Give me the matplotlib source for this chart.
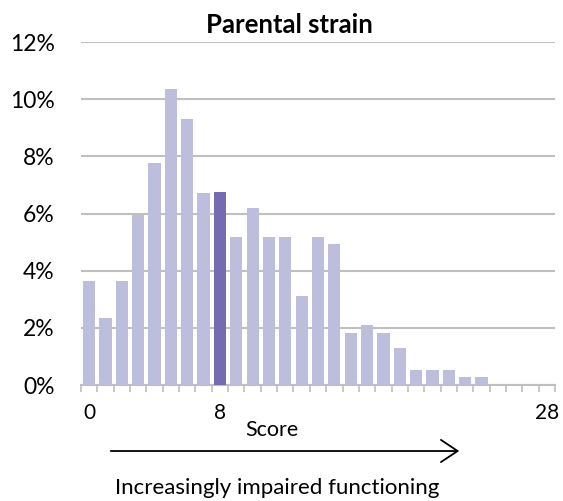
import numpy as np
import matplotlib
matplotlib.use("Agg")
from matplotlib import pyplot as plt
from matplotlib.ticker import FuncFormatter

plt.rcParams['font.family'] = ['Lato', 'DejaVu Sans']

scores = list(range(29))
shares = [3.63, 2.33, 3.63, 5.94, 7.76, 10.35, 9.30, 6.72, 6.75, 5.17,
          6.21, 5.17, 5.17, 3.11, 5.17, 4.92, 1.82, 2.09, 1.82, 1.30,
          0.52, 0.52, 0.52, 0.28, 0.28, 0.0, 0.0, 0.0, 0.0]
highlight = 8
tick_scores = [0, 8, 28]
title = "Parental strain"

light = "#BDBDDC"
dark = "#756BB1"
grid_col = "#BFBFBF"

fig = plt.figure(figsize=(5.63, 5.01), dpi=100)
ax = fig.add_axes([0.1439, 0.2315, 0.8419, 0.6845])

colors = [dark if s == highlight else light for s in scores]
ax.bar(scores, shares, width=0.75, color=colors, zorder=3)

ax.set_xlim(-0.5, 28.5)
ax.set_ylim(0, 12)
ax.set_yticks(np.arange(0, 13, 2))
ax.yaxis.set_major_formatter(FuncFormatter(lambda v, p: f"{v:.0f}%"))
ax.grid(axis='y', color=grid_col, linewidth=1.5, zorder=0)
ax.tick_params(axis='y', length=0, labelsize=16.5, pad=19)

ax.set_xticks(tick_scores)
ax.set_xticklabels([str(t) for t in tick_scores])
ax.set_xticks(np.arange(-0.5, 29, 1), minor=True)
ax.tick_params(axis='x', which='major', length=0, labelsize=15, pad=13)
ax.tick_params(axis='x', which='minor', length=5, color=grid_col, width=1.2)

for side in ['left', 'right', 'top']:
    ax.spines[side].set_visible(False)
ax.spines['bottom'].set_color(grid_col)
ax.spines['bottom'].set_linewidth(1.5)

fig.text(289 / 563, 1 - 25 / 501, title, ha='center', va='center',
         fontsize=18.5, fontweight='bold')
fig.text(272 / 563, 1 - 430 / 501, "Score", ha='center', va='center', fontsize=15.5)
fig.text(277 / 563, 1 - 488 / 501, "Increasingly impaired functioning",
         ha='center', va='center', fontsize=16)
fig.patches.append(matplotlib.patches.FancyArrowPatch(
    (108 / 563, 1 - 451 / 501), (462 / 563, 1 - 451 / 501),
    transform=fig.transFigure, arrowstyle='->,head_length=12,head_width=8',
    color='black', linewidth=1.3, mutation_scale=1))

fig.savefig("out.png", dpi=100)
